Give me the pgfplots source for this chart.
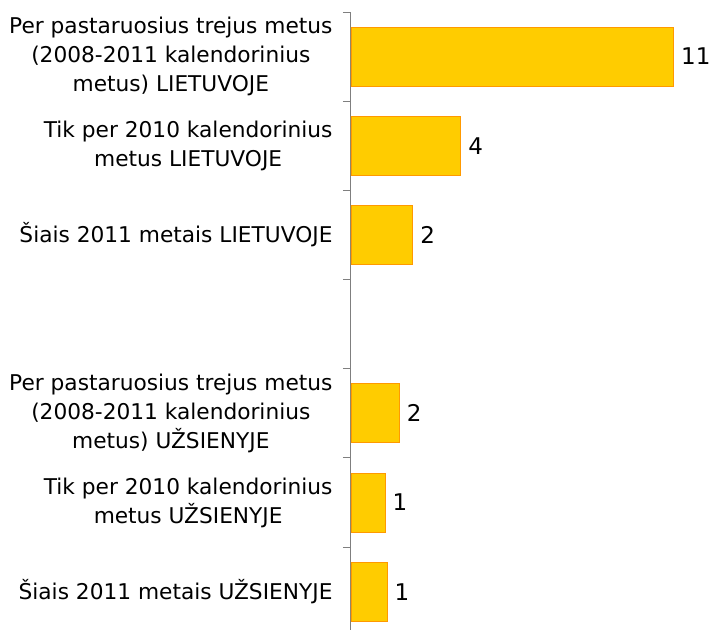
\documentclass[border=0pt]{standalone}
\usepackage{pgfplots}
\pgfplotsset{compat=1.18}
\usepackage{fontspec}
\setmainfont{DejaVu Sans}
\definecolor{barfill}{HTML}{FFCC00}
\definecolor{baredge}{HTML}{FF9900}
\definecolor{axisgray}{HTML}{7F7F7F}
\begin{document}
\begin{tikzpicture}
\begin{axis}[
  at={(0pt,0pt)}, anchor=south west,
  scale only axis, width=349pt, height=618pt,
  xbar, y dir=reverse,
  xmin=0, xmax=11.83, ymin=-0.5, ymax=6.43,
  axis x line=none, axis y line*=left,
  y axis line style={axisgray, line width=1pt, -},
  ytick={0,...,6},
  yticklabels={{Per pastaruosius trejus metus\\(2008-2011 kalendorinius\\metus) LIETUVOJE},
               {Tik per 2010 kalendorinius\\metus LIETUVOJE},
               {Šiais 2011 metais LIETUVOJE},
               {},
               {Per pastaruosius trejus metus\\(2008-2011 kalendorinius\\metus) UŽSIENYJE},
               {Tik per 2010 kalendorinius\\metus UŽSIENYJE},
               {Šiais 2011 metais UŽSIENYJE}},
  major tick length=0pt,
  minor ytick={-0.5,0.5,1.5,2.5,3.5,4.5,5.5},
  minor tick length=8pt, tick align=outside,
  minor y tick style={axisgray, line width=1pt},
  yticklabel style={align=center, font=\fontsize{21.7}{29}\selectfont, xshift=-15pt},
  bar width=0.66, bar shift=0pt,
  point meta=x,
  /pgf/number format/assume math mode=true,
  nodes near coords={\pgfmathprintnumber[fixed,precision=0,assume math mode=true]{\pgfplotspointmeta}},
  nodes near coords style={font=\fontsize{23}{28}\selectfont, black, xshift=4pt},
  clip=false,
]
\addplot[fill=barfill, draw=baredge, line width=0.8pt] table[x=v, y=i] {
i v
0 10.93
1 3.72
2 2.09
4 1.63
5 1.15
6 1.22
};
\end{axis}
\pgfresetboundingbox
\useasboundingbox (-351pt,0pt) rectangle (361pt,630pt);
\end{tikzpicture}
\end{document}
